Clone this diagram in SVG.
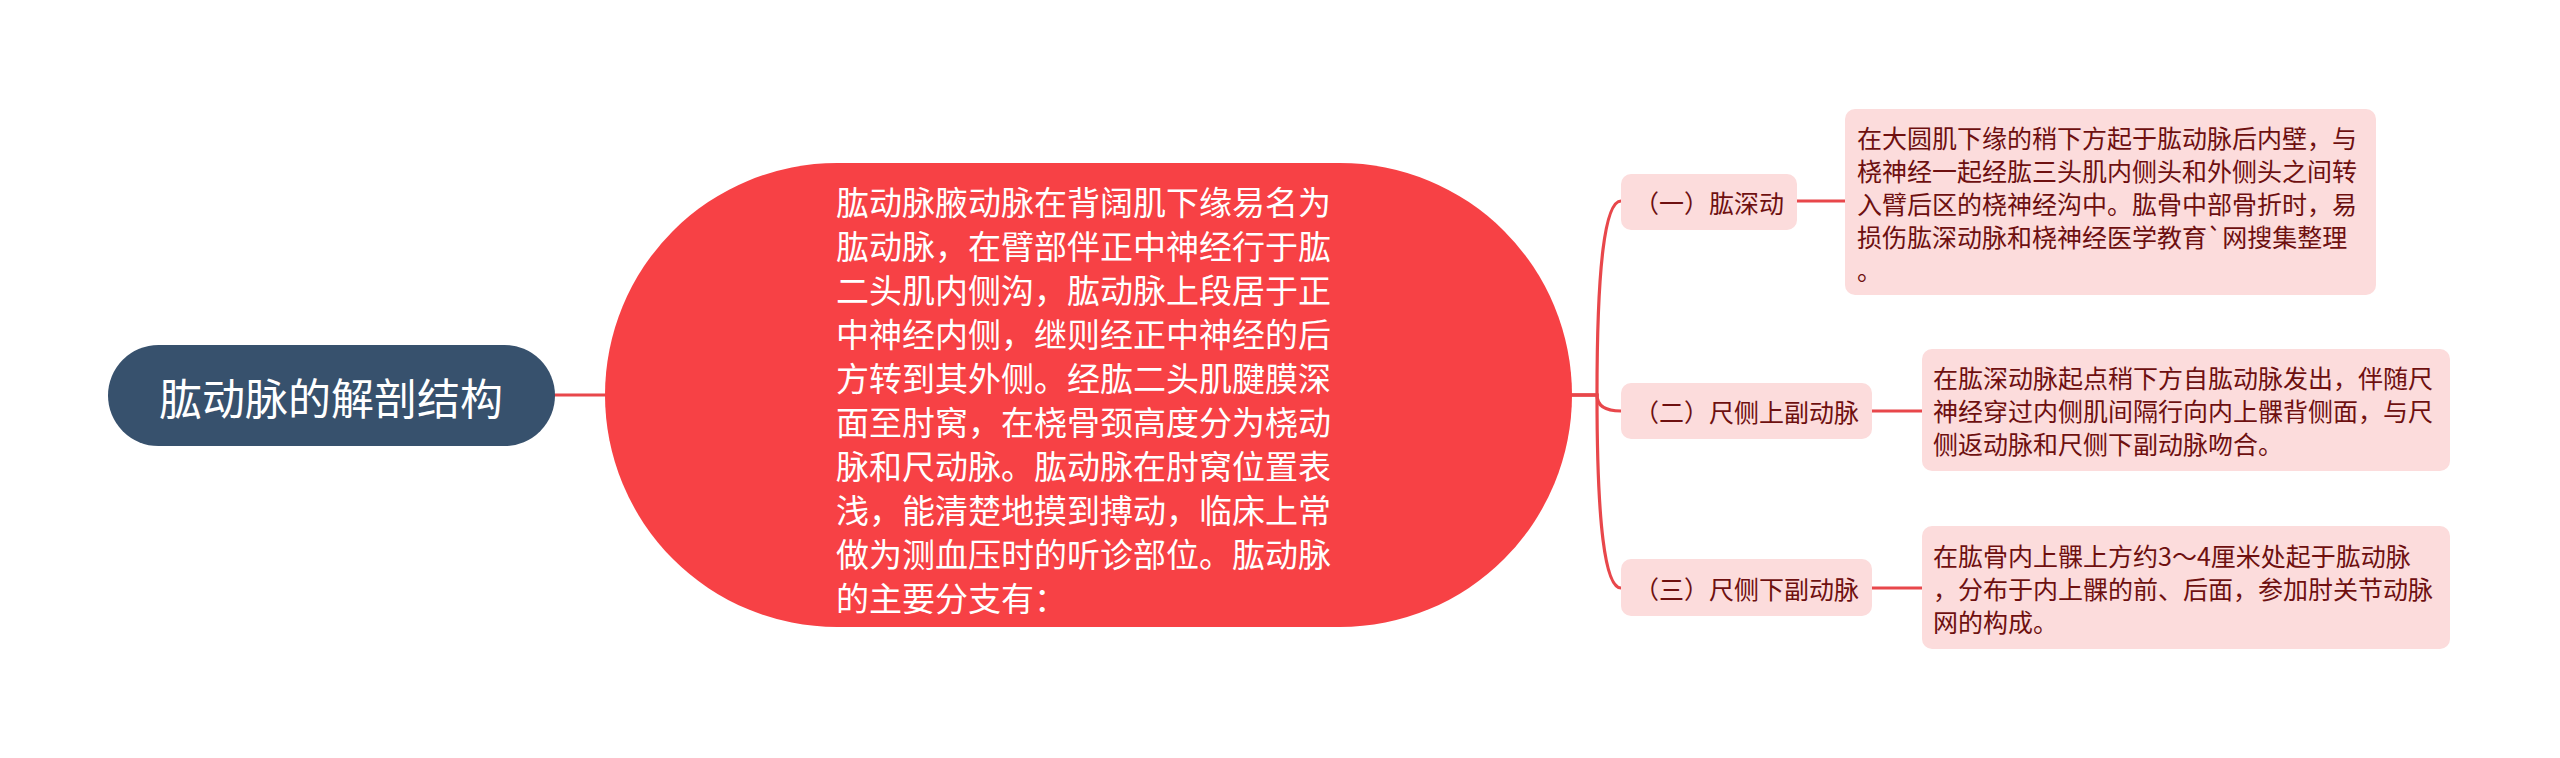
<svg xmlns="http://www.w3.org/2000/svg" width="2560" height="758" viewBox="0 0 2560 758">
<style>
text{font-family:"Noto Sans CJK SC","Noto Sans",sans-serif;dominant-baseline:central}
.conn{fill:none;stroke:#e8474b;stroke-width:3.2;stroke-linecap:round}
.box{fill:#fcdcdc}
.dark{fill:#6e1010;font-size:25px}
.white{fill:#ffffff}
</style>
<rect width="2560" height="758" fill="#ffffff"/>
<g id="connectors">
<path class="conn" d="M555 395 H606"/>
<path class="conn" d="M1571 395 H1597 Q1597 201 1621 201"/>
<path class="conn" d="M1571 395 H1597 Q1597 411 1621 411"/>
<path class="conn" d="M1571 395 H1597 Q1597 588 1621 588"/>
<path class="conn" d="M1797 201 H1845"/>
<path class="conn" d="M1872 411 H1922"/>
<path class="conn" d="M1872 588 H1922"/>
</g>
<g id="root">
<rect x="108" y="345" width="447" height="101" rx="50.5" fill="#37516d"/>
<text class="white" x="331" y="396" font-size="43" text-anchor="middle">肱动脉的解剖结构</text>
</g>
<g id="center">
<rect x="605" y="163" width="967" height="464" rx="232" ry="232" fill="#f74145"/>
<text class="white" font-size="33">
<tspan x="836" y="201">肱动脉腋动脉在背阔肌下缘易名为</tspan>
<tspan x="836" y="245">肱动脉，在臂部伴正中神经行于肱</tspan>
<tspan x="836" y="289">二头肌内侧沟，肱动脉上段居于正</tspan>
<tspan x="836" y="333">中神经内侧，继则经正中神经的后</tspan>
<tspan x="836" y="377">方转到其外侧。经肱二头肌腱膜深</tspan>
<tspan x="836" y="421">面至肘窝，在桡骨颈高度分为桡动</tspan>
<tspan x="836" y="465">脉和尺动脉。肱动脉在肘窝位置表</tspan>
<tspan x="836" y="509">浅，能清楚地摸到搏动，临床上常</tspan>
<tspan x="836" y="553">做为测血压时的听诊部位。肱动脉</tspan>
<tspan x="836" y="597">的主要分支有：</tspan>
</text>
</g>
<g id="branch1">
<rect class="box" x="1621" y="174" width="176" height="56" rx="10"/>
<text class="dark" x="1709" y="202" text-anchor="middle">（一）肱深动</text>
</g>
<g id="branch2">
<rect class="box" x="1621" y="383" width="251" height="56" rx="10"/>
<text class="dark" x="1746.5" y="411" text-anchor="middle">（二）尺侧上副动脉</text>
</g>
<g id="branch3">
<rect class="box" x="1621" y="559" width="251" height="57" rx="10"/>
<text class="dark" x="1746.5" y="588" text-anchor="middle">（三）尺侧下副动脉</text>
</g>
<g id="leaf1">
<rect class="box" x="1845" y="109" width="531" height="186" rx="10"/>
<text class="dark">
<tspan x="1857" y="137">在大圆肌下缘的稍下方起于肱动脉后内壁，与</tspan>
<tspan x="1857" y="170">桡神经一起经肱三头肌内侧头和外侧头之间转</tspan>
<tspan x="1857" y="203">入臂后区的桡神经沟中。肱骨中部骨折时，易</tspan>
<tspan x="1857" y="236">损伤肱深动脉和桡神经医学教育`网搜集整理</tspan>
<tspan x="1857" y="269">。</tspan>
</text>
</g>
<g id="leaf2">
<rect class="box" x="1922" y="349" width="528" height="122" rx="10"/>
<text class="dark">
<tspan x="1933" y="377">在肱深动脉起点稍下方自肱动脉发出，伴随尺</tspan>
<tspan x="1933" y="410">神经穿过内侧肌间隔行向内上髁背侧面，与尺</tspan>
<tspan x="1933" y="443">侧返动脉和尺侧下副动脉吻合。</tspan>
</text>
</g>
<g id="leaf3">
<rect class="box" x="1922" y="526" width="528" height="123" rx="10"/>
<text class="dark">
<tspan x="1933" y="555">在肱骨内上髁上方约3～4厘米处起于肱动脉</tspan>
<tspan x="1933" y="588">，分布于内上髁的前、后面，参加肘关节动脉</tspan>
<tspan x="1933" y="621">网的构成。</tspan>
</text>
</g>
</svg>
